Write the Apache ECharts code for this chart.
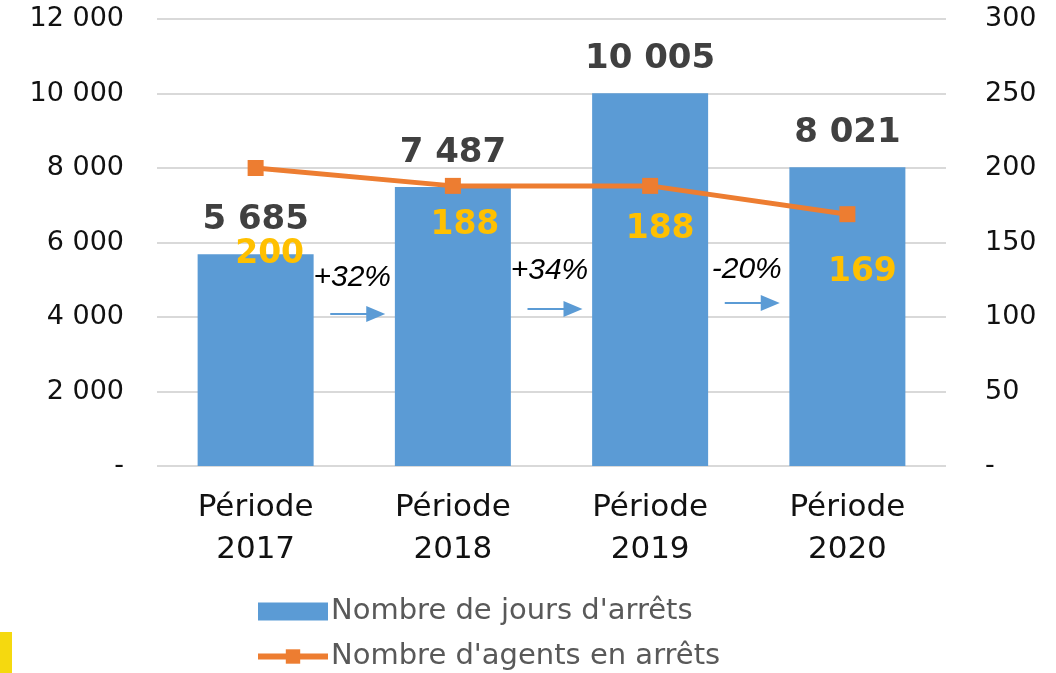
<!DOCTYPE html>
<html>
<head>
<meta charset="utf-8">
<script src="https://cdn.jsdelivr.net/npm/echarts@6/dist/echarts.min.js"></script>
<style>
  html, body { margin: 0; padding: 0; background: #fff; }
  #chart { width: 1056px; height: 673px; }
</style>
</head>
<body>
<div id="chart"></div>
<script>
var categories = ['Période\n2017', 'Période\n2018', 'Période\n2019', 'Période\n2020']
var joursArrets = [5685, 7487, 10005, 8021]
var agentsArrets = [200, 188, 188, 169]
var evolutions = ['+32%', '+34%', '-20%']

var fmt = function(v) {
  if (v === 0) return '-'
  return String(v).replace(/\B(?=(\d{3})+(?!\d))/g, ' ')
}

var chart = echarts.init(document.getElementById('chart'))

// decalage des etiquettes jaunes (comme dans le fichier excel)
var agentLabelOffsets = [[14, 86], [12, 40], [10, 44], [15, 58]]

chart.setOption({
  backgroundColor: '#fff',
  animation: false,
  grid: { left: 157, right: 110, top: 19, bottom: 207 },
  legend: {
    orient: 'vertical',
    left: 255,
    top: 597,
    height: 150,
    padding: 0,
    itemWidth: 70,
    itemHeight: 18,
    itemGap: 16,
    textStyle: { fontFamily: 'DejaVu Sans', fontSize: 29, color: '#595959', padding: [0, 0, 0, -2] },
    data: [
      { name: 'Nombre de jours d\'arrêts', icon: 'rect' },
      { name: 'Nombre d\'agents en arrêts', lineStyle: { width: 6 } }
    ]
  },
  xAxis: {
    type: 'category',
    data: categories,
    axisLine: { show: false },
    axisTick: { show: false },
    axisLabel: {
      margin: 21,
      fontFamily: 'DejaVu Sans',
      fontSize: 31,
      lineHeight: 42,
      color: '#111'
    }
  },
  yAxis: [
    {
      type: 'value',
      min: 0,
      max: 12000,
      interval: 2000,
      axisLine: { show: false },
      axisTick: { show: false },
      splitLine: { lineStyle: { color: '#d9d9d9', width: 2 } },
      axisLabel: {
        margin: 33,
        formatter: fmt,
        fontFamily: 'DejaVu Sans',
        fontSize: 27,
        color: '#111'
      }
    },
    {
      type: 'value',
      min: 0,
      max: 300,
      interval: 50,
      axisLine: { show: false },
      axisTick: { show: false },
      splitLine: { show: false },
      axisLabel: {
        margin: 39,
        formatter: fmt,
        fontFamily: 'DejaVu Sans',
        fontSize: 27,
        color: '#111'
      }
    }
  ],
  series: [
    {
      name: 'Nombre de jours d\'arrêts',
      type: 'bar',
      barWidth: 116,
      itemStyle: { color: '#5b9bd5' },
      label: {
        show: true,
        position: 'top',
        distance: 17,
        formatter: function(p) { return fmt(p.value) },
        fontFamily: 'DejaVu Sans',
        fontWeight: 'bold',
        fontSize: 34,
        color: '#404040'
      },
      data: joursArrets
    },
    {
      name: 'Nombre d\'agents en arrêts',
      type: 'line',
      yAxisIndex: 1,
      symbol: 'rect',
      symbolSize: 16,
      lineStyle: { color: '#ed7d31', width: 5 },
      itemStyle: { color: '#ed7d31' },
      data: agentsArrets.map(function(v, i) {
        return {
          value: v,
          label: {
            show: true,
            position: 'inside',
            offset: agentLabelOffsets[i],
            fontFamily: 'DejaVu Sans',
            fontWeight: 'bold',
            fontSize: 33,
            color: '#ffc000'
          }
        }
      })
    }
  ]
})

// fleches + pourcentages entre les barres
var arrowY = [314, 309, 303]
var textY = [278, 271, 270]
var graphics = [
  { type: 'rect', left: 0, top: 632, shape: { width: 12, height: 41 }, style: { fill: '#f5d90f' } }
]
evolutions.forEach(function(txt, i) {
  var x1 = chart.convertToPixel({ xAxisIndex: 0 }, categories[i])
  var x2 = chart.convertToPixel({ xAxisIndex: 0 }, categories[i + 1])
  var mx = (x1 + x2) / 2
  var y = arrowY[i]
  graphics.push({
    type: 'text',
    x: mx - 2,
    y: textY[i],
    style: {
      text: txt,
      fontFamily: 'Liberation Sans',
      fontStyle: 'italic',
      fontSize: 30,
      fill: '#000',
      align: 'center',
      verticalAlign: 'middle'
    }
  })
  graphics.push({
    type: 'line',
    shape: { x1: mx - 24, y1: y, x2: mx + 14, y2: y },
    style: { stroke: '#5b9bd5', lineWidth: 2 }
  })
  graphics.push({
    type: 'polygon',
    shape: { points: [[mx + 12, y - 8], [mx + 31, y], [mx + 12, y + 8]] },
    style: { fill: '#5b9bd5' }
  })
})
chart.setOption({ graphic: graphics })
</script>
</body>
</html>
